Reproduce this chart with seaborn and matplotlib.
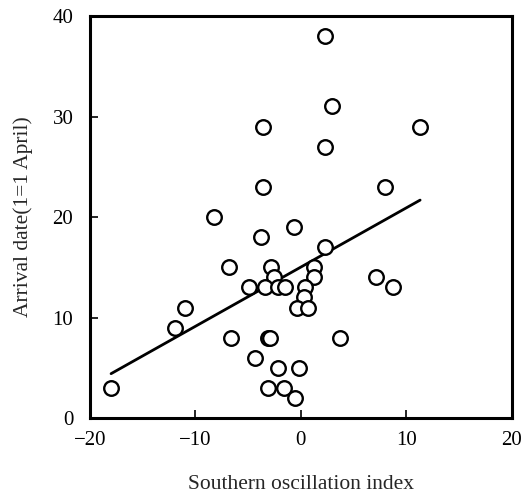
import matplotlib
matplotlib.use("Agg")
import matplotlib.pyplot as plt
import seaborn as sns
import pandas as pd

soi = [2.3, 2.9, 11.3, -3.6, 2.3, -3.6, 8.0, -8.2, -0.7, -3.8, 2.3, -6.8, -2.8, 1.2,
       -2.6, 1.2, 7.1, -4.9, -3.4, -2.2, -1.5, 0.4, 8.7, 0.3, -11.0, -0.4, 0.7, -11.9,
       -6.6, -3.1, -2.9, 3.7, -4.4, -2.2, -0.2, -18.0, -3.1, -1.6, -0.6]
arrival = [38, 31, 29, 29, 27, 23, 23, 20, 19, 18, 17, 15, 15, 15,
           14, 14, 14, 13, 13, 13, 13, 13, 13, 12, 11, 11, 11, 9,
           8, 8, 8, 8, 6, 5, 5, 3, 3, 3, 2]
xticks = [-20, -10, 0, 10, 20]
yticks = [0, 10, 20, 30, 40]

df = pd.DataFrame({"soi": soi, "arrival": arrival})

sns.set_style("ticks")
plt.rcParams["font.family"] = ["Liberation Serif", "DejaVu Serif"]

fig = plt.figure(figsize=(5.25, 4.93), dpi=100)
ax = fig.add_axes([0.1714, 0.152, 0.8036, 0.8155])

sns.regplot(data=df, x="soi", y="arrival", ax=ax, ci=None, truncate=True,
            scatter_kws=dict(s=110, facecolors="white", edgecolors="black",
                             linewidths=1.7, zorder=3, alpha=1),
            line_kws=dict(color="black", linewidth=2, zorder=2))

ax.set_xlim(-20, 20)
ax.set_ylim(0, 40)
ax.set_xticks(xticks)
ax.set_yticks(yticks)
ax.set_xticklabels(["\u221220", "\u221210", "0", "10", "20"])
ax.tick_params(direction="in", length=6, width=1.2, labelsize=15, colors="black")
ax.tick_params(axis="x", pad=9)
ax.tick_params(axis="y", pad=12)
for sp in ax.spines.values():
    sp.set_linewidth(2.2)
    sp.set_color("black")
ax.set_xlabel("Southern oscillation index", fontsize=15.5, labelpad=18)
ax.set_ylabel("Arrival date(1=1 April)", fontsize=15.5, labelpad=14)

fig.savefig("out.png", dpi=100)
